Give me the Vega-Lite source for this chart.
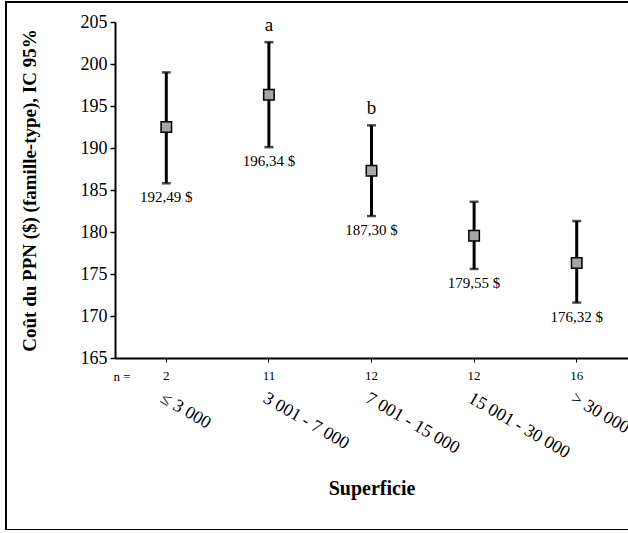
{
  "$schema": "https://vega.github.io/schema/vega-lite/v6.json",
  "autosize": "none",
  "padding": {"left": 6, "top": 2, "right": 0, "bottom": 0},
  "width": 630,
  "height": 528,
  "config": {
    "view": {"stroke": "black", "strokeWidth": 2},
    "font": "Liberation Serif",
    "text": {"font": "Liberation Serif"},
    "axis": {"grid": false, "labelFont": "Liberation Serif", "titleFont": "Liberation Serif", "labelColor": "black", "titleColor": "black"}
  },
  "data": {
    "values": [
      {"cat": "≤ 3 000", "n": "2", "mean": 192.49, "lower": 185.8, "upper": 199.0, "label": "192,49 $", "letter": ""},
      {"cat": "3 001 - 7 000", "n": "11", "mean": 196.34, "lower": 190.1, "upper": 202.6, "label": "196,34 $", "letter": "a"},
      {"cat": "7 001 - 15 000", "n": "12", "mean": 187.30, "lower": 181.9, "upper": 192.7, "label": "187,30 $", "letter": "b"},
      {"cat": "15 001 - 30 000", "n": "12", "mean": 179.55, "lower": 175.6, "upper": 183.6, "label": "179,55 $", "letter": ""},
      {"cat": "> 30 000", "n": "16", "mean": 176.32, "lower": 171.6, "upper": 181.3, "label": "176,32 $", "letter": ""}
    ]
  },
  "encoding": {
    "x": {
      "field": "cat", "type": "nominal", "sort": null, "axis": null,
      "scale": {"type": "band", "range": [109, 622], "paddingInner": 0, "paddingOuter": 0}
    }
  },
  "layer": [
    {
      "mark": {"type": "rule", "color": "black", "strokeWidth": 3},
      "encoding": {
        "x": {
          "field": "cat", "type": "nominal", "sort": null,
          "axis": {
            "orient": "bottom", "offset": -172,
            "domainColor": "black", "domainWidth": 2,
            "tickColor": "black", "tickSize": 4, "tickWidth": 1,
            "labelFont": "Liberation Serif", "titleFont": "Liberation Serif",
            "labelAngle": 30, "labelAlign": "left", "labelBaseline": "top",
            "labelPadding": 27, "labelFontSize": 18, "labelOverlap": false,
            "title": "Superficie", "titleFontSize": 20, "titleFontWeight": "bold",
            "titleY": 130, "titleBaseline": "middle"
          }
        },
        "y": {
          "field": "lower", "type": "quantitative",
          "scale": {"domain": [165, 205], "range": [356, 20], "nice": false, "zero": false},
          "axis": {
            "orient": "left", "offset": -109,
            "values": [165, 170, 175, 180, 185, 190, 195, 200, 205],
            "domainColor": "black", "domainWidth": 2,
            "tickColor": "black", "tickSize": 5, "tickWidth": 1.5,
            "labelFont": "Liberation Serif", "titleFont": "Liberation Serif",
            "labelFontSize": 18, "labelPadding": 3,
            "title": "Coût du PPN ($) (famille-type), IC 95%",
            "titleFontSize": 19, "titleFontWeight": "bold",
            "titleX": -76
          }
        },
        "y2": {"field": "upper"}
      }
    },
    {
      "mark": {"type": "tick", "color": "black", "thickness": 2.5, "size": 9},
      "encoding": {"y": {"field": "upper", "type": "quantitative"}}
    },
    {
      "mark": {"type": "tick", "color": "black", "thickness": 2.5, "size": 9},
      "encoding": {"y": {"field": "lower", "type": "quantitative"}}
    },
    {
      "mark": {"type": "point", "shape": "square", "size": 110, "filled": true, "fill": "#a6a6a6", "stroke": "black", "strokeWidth": 1.5, "opacity": 1},
      "encoding": {"y": {"field": "mean", "type": "quantitative"}}
    },
    {
      "mark": {"type": "text", "baseline": "top", "dy": 7, "fontSize": 15, "color": "black", "font": "Liberation Serif"},
      "encoding": {"y": {"field": "lower", "type": "quantitative"}, "text": {"field": "label"}}
    },
    {
      "mark": {"type": "text", "baseline": "bottom", "dy": -7, "fontSize": 19, "color": "black", "font": "Liberation Serif"},
      "encoding": {"y": {"field": "upper", "type": "quantitative"}, "text": {"field": "letter"}}
    },
    {
      "mark": {"type": "text", "baseline": "middle", "dy": 18, "fontSize": 13, "color": "black", "font": "Liberation Serif"},
      "encoding": {
        "x": {
          "field": "cat", "type": "nominal", "sort": null,
          "axis": {
            "orient": "bottom", "offset": -172, "domain": false, "ticks": false, "labels": false,
            "titleFont": "Liberation Serif",
            "title": "n =", "titleFontSize": 13, "titleFontWeight": "normal",
            "titleX": 107, "titleY": 18, "titleAlign": "left", "titleBaseline": "middle"
          }
        },
        "y": {"datum": 165, "type": "quantitative"},
        "text": {"field": "n"}
      }
    }
  ],
  "resolve": {"axis": {"x": "independent", "y": "shared"}}
}
